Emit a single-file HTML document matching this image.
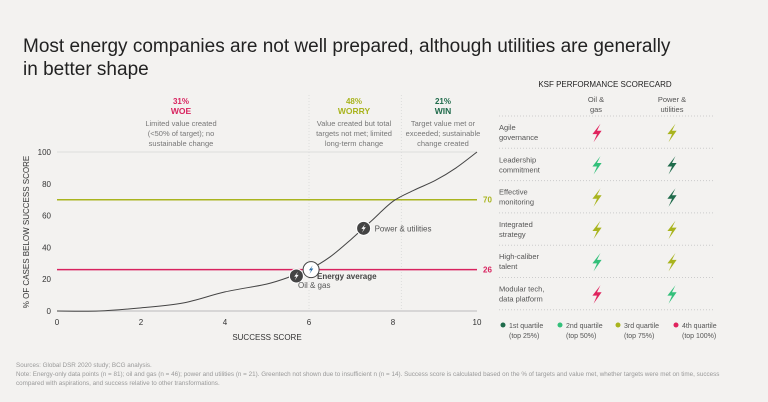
<!DOCTYPE html>
<html><head><meta charset="utf-8"><style>
body{margin:0;background:#f3f2f0;font-family:"Liberation Sans",sans-serif;}
#wrap{position:relative;width:768px;height:402px;overflow:hidden;background:#f3f2f0}
.t{position:absolute;white-space:nowrap}
</style></head><body>
<div id="wrap">
<div class="t" style="left:23px;top:35px;font-size:19px;color:#222;line-height:23px">Most energy companies are not well prepared, although utilities are generally<br>in better shape</div>
<svg id="svg" width="768" height="402" style="position:absolute;left:0;top:0"></svg>
</div>
<script>
const xVals=[0,1,2,3,4,5,5.6,6,6.5,7,7.5,8,8.5,9,9.5,10];
const yVals=[0,0,2,5,12,17,22,26,34,45,57,69,76,82,90,100];
const xTicks=[0,2,4,6,8,10];
const yTicks=[0,20,40,60,80,100];
const refLines=[{v:70,c:"#a9b41e"},{v:26,c:"#d8235f"}];
const markers=[{name:"oil-gas",x:5.7,y:22},{name:"energy-average",x:6.05,y:26},{name:"power-utilities",x:7.3,y:52}];
const rows=["Agile|governance","Leadership|commitment","Effective|monitoring","Integrated|strategy","High-caliber|talent","Modular tech,|data platform"];
const oilQ=[4,2,3,3,2,4];
const powQ=[3,1,1,3,3,2];
const qColors={1:"#1f6b4b",2:"#33c07a",3:"#a9b41e",4:"#e0245e"};
const X=v=>57+v*42, Y=v=>311-v*1.59;
const svg=document.getElementById('svg');const NS="http://www.w3.org/2000/svg";
function el(t,a,p){const e=document.createElementNS(NS,t);for(const k in a)e.setAttribute(k,a[k]);(p||svg).appendChild(e);return e;}
function txt(x,y,s,a){const e=el('text',Object.assign({x:x,y:y,'font-family':'Liberation Sans, sans-serif','font-size':8,fill:'#555'},a||{}));e.textContent=s;return e;}
function bolt(cx,cy,s,col,g){const p=[[3,-8],[-4,1],[0,1],[-3,8],[4,-2],[0,-2],[3,-8]].map(q=>(cx+q[0]*s)+','+(cy+q[1]*s)).join(' ');return el('polygon',{points:p,fill:col},g);}
let e=el('line',{x1:X(0),x2:X(10),y1:Y(100),y2:Y(100),stroke:'#ddd','stroke-width':1});

[6,8.2].forEach(v=>{const l=el('line',{x1:X(v),x2:X(v),y1:95,y2:Y(0),stroke:'#ddd','stroke-dasharray':'1,2'});});
e=el('line',{x1:X(0),x2:X(10),y1:Y(0),y2:Y(0),stroke:'#bbb'});
yTicks.forEach(v=>{const t=txt(51,Y(v)+3,String(v),{'text-anchor':'end',fill:'#333'});});
xTicks.forEach(v=>{const t=txt(X(v),Y(0)+14,String(v),{'text-anchor':'middle',fill:'#333'});});
e=txt(267,340,'SUCCESS SCORE',{'text-anchor':'middle',fill:'#333'});
e=txt(0,0,'% OF CASES BELOW SUCCESS SCORE',{'text-anchor':'middle',fill:'#333',transform:'translate(29,232) rotate(-90)'});
refLines.forEach(r=>{const l=el('line',{x1:X(0),x2:X(10),y1:Y(r.v),y2:Y(r.v),stroke:r.c,'stroke-width':1.5});
const t=txt(X(10)+6,Y(r.v)+3,String(r.v),{fill:r.c,'font-weight':'bold'});});
const pts=xVals.map((v,i)=>[X(v),Y(yVals[i])]);
let d='M'+pts[0][0]+','+pts[0][1];
for(let i=0;i<pts.length-1;i++){const p0=pts[Math.max(0,i-1)],p1=pts[i],p2=pts[i+1],p3=pts[Math.min(pts.length-1,i+2)];
d+='C'+(p1[0]+(p2[0]-p0[0])/6)+','+(p1[1]+(p2[1]-p0[1])/6)+' '+(p2[0]-(p3[0]-p1[0])/6)+','+(p2[1]-(p3[1]-p1[1])/6)+' '+p2[0]+','+p2[1];}
e=el('path',{d:d,fill:'none',stroke:'#444','stroke-width':1,'stroke-linejoin':'round'});
markers.forEach(m=>{const g=el('g',{});
const avg=m.name==='energy-average';
el('circle',{cx:X(m.x),cy:Y(m.y),r:avg?8:7,fill:avg?'#fff':'#444',stroke:avg?'#444':'#fff','stroke-width':1},g);
bolt(X(m.x),Y(m.y),0.55,avg?'#2a6fa8':'#fff',g);});
e=txt(X(7.3)+11,Y(52)+3,'Power & utilities',{fill:'#555'});
e=txt(317,279,'Energy average',{fill:'#444','font-weight':'bold'});
e=txt(298,288,'Oil & gas',{fill:'#555'});
const zones=[{x:181,p:'31%',n:'WOE',c:'#d8235f',l:['Limited value created','(<50% of target); no','sustainable change']},
{x:354,p:'48%',n:'WORRY',c:'#a9b41e',l:['Value created but total','targets not met; limited','long-term change']},
{x:443,p:'21%',n:'WIN',c:'#1f6b4b',l:['Target value met or','exceeded; sustainable','change created']}];
zones.forEach(z=>{const g=el('g',{});
const a={'text-anchor':'middle'};
let t=txt(z.x,104,z.p,Object.assign({fill:z.c,'font-weight':'bold'},a));g.appendChild(t);
t=txt(z.x,114,z.n,Object.assign({fill:z.c,'font-weight':'bold','font-size':8.5},a));g.appendChild(t);
z.l.forEach((s,i)=>{g.appendChild(txt(z.x,126+i*10,s,Object.assign({fill:'#777','font-size':7.5},a)));});});
e=txt(605,87,'KSF PERFORMANCE SCORECARD',{'text-anchor':'middle',fill:'#222','font-size':8});
[['Oil &','gas',596],['Power &','utilities',672]].forEach(h=>{const g=el('g',{});
g.appendChild(txt(h[2],102,h[0],{'text-anchor':'middle','font-size':7.5}));g.appendChild(txt(h[2],112,h[1],{'text-anchor':'middle','font-size':7.5}));});
for(let i=0;i<=rows.length;i++){const l=el('line',{x1:499,x2:715,y1:116+i*32.3,y2:116+i*32.3,stroke:'#ccc','stroke-dasharray':'1,2'});}
rows.forEach((r,i)=>{const y=116+i*32.3;const g=el('g',{});
const p=r.split('|');g.appendChild(txt(499,y+14,p[0],{'font-size':7.5}));g.appendChild(txt(499,y+24,p[1],{'font-size':7.5}));
let b=bolt(597,y+17,1.15,qColors[oilQ[i]],g);
b=bolt(672,y+17,1.15,qColors[powQ[i]],g);});
[['1st quartile','(top 25%)',1,503],['2nd quartile','(top 50%)',2,560],['3rd quartile','(top 75%)',3,618],['4th quartile','(top 100%)',4,676]].forEach(q=>{const g=el('g',{});
el('circle',{cx:q[3],cy:325,r:2.5,fill:qColors[q[2]]},g);g.appendChild(txt(q[3]+6,328,q[0],{'font-size':7}));g.appendChild(txt(q[3]+6,338,q[1],{'font-size':7}));});
const f=el('g',{});
f.appendChild(txt(16,367,'Sources: Global DSR 2020 study; BCG analysis.',{'font-size':6.3,fill:'#999'}));
f.appendChild(txt(16,376,'Note: Energy-only data points (n = 81); oil and gas (n = 46); power and utilities (n = 21). Greentech not shown due to insufficient n (n = 14). Success score is calculated based on the % of targets and value met, whether targets were met on time, success',{'font-size':6.3,fill:'#999'}));
f.appendChild(txt(16,385,'compared with aspirations, and success relative to other transformations.',{'font-size':6.3,fill:'#999'}));
</script>
</body></html>
